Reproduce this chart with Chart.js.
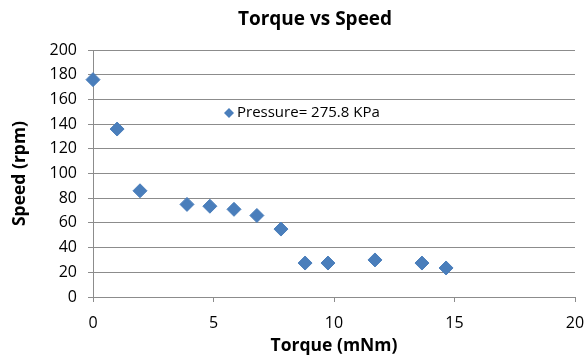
<!DOCTYPE html>
<html>
<head>
<meta charset="utf-8">
<title>Torque vs Speed</title>
<script src="https://cdn.jsdelivr.net/npm/chart.js"></script>
<style>
  body { margin: 0; background: #fff; }
  #wrap { width: 587px; height: 357px; }
</style>
</head>
<body>
<div id="wrap"><canvas id="myChart" width="587" height="357"></canvas></div>
<script>
// data
const torque = [0, 1.0, 1.95, 3.9, 4.85, 5.85, 6.8, 7.8, 8.8, 9.75, 11.7, 13.65, 14.65];
const speed = [176, 136, 86, 75, 73.5, 71, 66, 55, 27.5, 27.5, 30, 27.5, 23.5];
const seriesLabel = 'Pressure= 275.8 KPa';
const chartTitle = 'Torque vs Speed';
const xTicks = [0, 5, 10, 15, 20];
const yTicks = [0, 20, 40, 60, 80, 100, 120, 140, 160, 180, 200];

const FONT = '"Open Sans", "Liberation Sans", sans-serif';
const BLUE = '#4A7EBB';
const GRID = '#8c8c8c';

// Excel-style title (a bit left of plot centre) and the legend inside the plot
const excelBits = {
  id: 'excelBits',
  afterDraw(chart) {
    const ctx = chart.ctx;
    const a = chart.chartArea;
    ctx.save();
    ctx.fillStyle = '#000';
    ctx.font = 'bold 19px ' + FONT;
    ctx.textAlign = 'center';
    ctx.textBaseline = 'middle';
    ctx.fillText(chartTitle, (a.left + a.right) / 2 - 19, a.top - 30);

    const x = a.left + 136, y = a.top + 63;
    ctx.fillStyle = BLUE;
    ctx.beginPath();
    ctx.moveTo(x - 5, y);
    ctx.lineTo(x, y - 5);
    ctx.lineTo(x + 5, y);
    ctx.lineTo(x, y + 5);
    ctx.closePath();
    ctx.fill();
    ctx.fillStyle = '#000';
    ctx.font = '15px ' + FONT;
    ctx.textAlign = 'left';
    ctx.fillText(chart.data.datasets[0].label, x + 8, y);
    ctx.restore();
  }
};

const ctx = document.getElementById('myChart').getContext('2d');
new Chart(ctx, {
  type: 'scatter',
  data: {
    datasets: [{
      label: seriesLabel,
      data: torque.map((t, i) => ({ x: t, y: speed[i] })),
      backgroundColor: BLUE,
      borderColor: BLUE,
      pointStyle: 'rectRot',
      pointRadius: 7,
      pointHoverRadius: 7,
      clip: false
    }]
  },
  options: {
    responsive: false,
    animation: false,
    layout: { padding: { left: 0, right: 12, top: 50, bottom: 0 } },
    plugins: {
      legend: { display: false },
      tooltip: { enabled: false },
      title: { display: false }
    },
    scales: {
      x: {
        type: 'linear',
        min: 0, max: 20,
        afterBuildTicks: s => { s.ticks = xTicks.map(v => ({ value: v })); },
        ticks: { color: '#000', font: { family: FONT, size: 16 }, padding: 12 },
        grid: { drawOnChartArea: false, color: GRID, tickLength: 5, tickColor: GRID },
        border: { color: GRID },
        title: {
          display: true,
          text: 'Torque (mNm)',
          color: '#000',
          font: { family: FONT, size: 17.5, weight: 'bold' },
          padding: { top: 0, bottom: 0 }
        },
        afterFit: s => { s.height = 60; s.paddingLeft = 0; s.paddingRight = 0; }
      },
      y: {
        type: 'linear',
        min: 0, max: 200,
        afterBuildTicks: s => { s.ticks = yTicks.map(v => ({ value: v })); },
        ticks: { color: '#000', font: { family: FONT, size: 16 }, padding: 11 },
        grid: { color: GRID, tickLength: 5, tickColor: GRID },
        border: { color: GRID },
        title: {
          display: true,
          text: 'Speed (rpm)',
          color: '#000',
          font: { family: FONT, size: 17.5, weight: 'bold' },
          padding: { top: 10, bottom: 0 }
        },
        afterFit: s => { s.width = 93; s.paddingTop = 0; s.paddingBottom = 0; }
      }
    }
  },
  plugins: [excelBits]
});
</script>
</body>
</html>
